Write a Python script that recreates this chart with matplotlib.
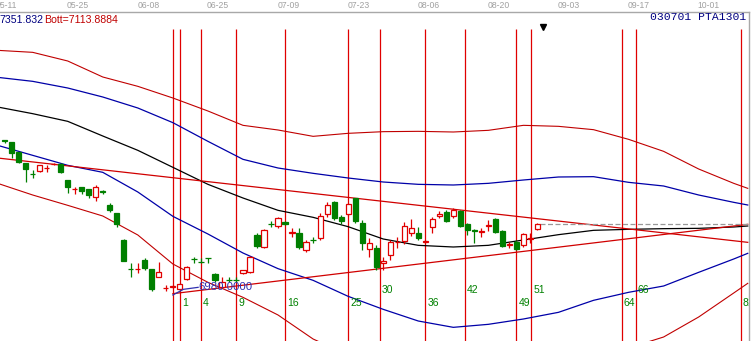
import numpy as np
import matplotlib.pyplot as plt

# candles, bar index (bar 1 = first counted bar after the low)
bars = np.arange(-24, 53)
opn = [7435, 7429, 7399, 7366, 7334, 7344, 7351, 7363, 7364, 7316, 7288, 7294, 7289, 7266, 7282,
       7241, 7216, 7136, 7050, 7049, 7076, 7048, 7026, 6991, 6995, 6990, 7019, 7080, 7070, 7082,
       7033, 6996, 7017, 7017, 7036, 7041, 7151, 7114, 7184, 7178, 7190, 7158, 7158, 7106, 7137,
       7141, 7214, 7251, 7206, 7213, 7261, 7188, 7108, 7111, 7066, 7091, 7130, 7134, 7158, 7156,
       7131, 7174, 7208, 7221, 7208, 7224, 7183, 7165, 7161, 7177, 7198, 7163, 7120, 7131, 7121,
       7140, 7168]
high = [7435, 7429, 7400, 7366, 7346, 7361, 7361, 7366, 7366, 7316, 7296, 7294, 7289, 7301, 7286,
        7246, 7218, 7138, 7066, 7066, 7081, 7050, 7069, 7001, 7000, 7006, 7059, 7086, 7081, 7082,
        7036, 7026, 7024, 7024, 7047, 7088, 7156, 7168, 7194, 7206, 7192, 7171, 7171, 7136, 7146,
        7216, 7251, 7253, 7211, 7248, 7263, 7196, 7143, 7121, 7086, 7136, 7146, 7191, 7198, 7176,
        7136, 7206, 7224, 7226, 7231, 7226, 7186, 7168, 7171, 7196, 7201, 7166, 7131, 7136, 7158,
        7156, 7188]
low = [7426, 7381, 7366, 7311, 7321, 7339, 7341, 7360, 7336, 7278, 7274, 7274, 7263, 7254, 7274,
       7221, 7176, 7072, 7026, 7036, 7046, 6984, 7024, 6984, 6992, 6988, 7016, 7067, 7066, 7066,
       7011, 6991, 7009, 7011, 7033, 7036, 7111, 7111, 7174, 7171, 7181, 7146, 7108, 7101, 7126,
       7136, 7206, 7196, 7183, 7209, 7186, 7106, 7086, 7046, 7046, 7076, 7111, 7124, 7148, 7136,
       7127, 7156, 7201, 7190, 7203, 7174, 7151, 7128, 7146, 7164, 7156, 7116, 7111, 7105, 7116,
       7128, 7166]
close = [7434, 7396, 7371, 7349, 7333, 7361, 7352, 7364, 7341, 7294, 7289, 7284, 7271, 7294, 7281,
         7226, 7184, 7074, 7049, 7050, 7051, 6989, 7039, 6992, 6998, 7004, 7054, 7079, 7069, 7081,
         7016, 7011, 7016, 7016, 7046, 7086, 7119, 7166, 7183, 7201, 7183, 7159, 7114, 7129, 7136,
         7208, 7241, 7201, 7193, 7244, 7193, 7128, 7126, 7056, 7074, 7129, 7131, 7178, 7171, 7141,
         7132, 7198, 7214, 7194, 7226, 7178, 7166, 7164, 7162, 7180, 7161, 7118, 7123, 7108, 7153,
         7143, 7184]

# envelope bands and moving average, read every 5 bars
band_x = [-25, -20, -15, -10, -5, 0, 5, 10, 15, 20, 25, 30, 35, 40, 45, 50, 55, 60, 65, 70, 75, 80, 82]
upper_red = [7705, 7699, 7673, 7625, 7597, 7562, 7523, 7480, 7466, 7447, 7456, 7461, 7462, 7460,
             7465, 7480, 7477, 7467, 7438, 7402, 7349, 7306, 7291]
upper_blue = [7624, 7612, 7592, 7565, 7532, 7488, 7432, 7378, 7352, 7336, 7322, 7310, 7303, 7301,
              7306, 7316, 7325, 7326, 7309, 7298, 7271, 7249, 7241]
mid_ma = [7535, 7515, 7492, 7448, 7405, 7354, 7303, 7262, 7225, 7204, 7176, 7139, 7120, 7115,
          7120, 7136, 7152, 7165, 7168, 7170, 7171, 7175, 7178]
lower_blue = [7420, 7390, 7360, 7339, 7280, 7207, 7154, 7097, 7050, 7015, 6967, 6928, 6893, 6874,
              6883, 6899, 6919, 6955, 6979, 6998, 7039, 7079, 7096]
lower_red = [7306, 7271, 7240, 7208, 7151, 7064, 7009, 6964, 6911, 6839, 6791, 6752, 6722, 6707,
             6716, 6734, 6758, 6785, 6812, 6845, 6905, 6977, 7006]

# trend lines (two end points each)
top_line_x = [-25, 82]
top_line_y = [7382, 7129]
bot_line_x = [0, 82]
bot_line_y = [6975, 7183]

# time-cycle lines and their labels
cycle_x = [0, 1, 4, 9, 16, 25, 29.5, 36, 41.65, 49, 51.1, 64, 66, 81]
low_labels = ['1', '4', '9', '16', '25', '36', '49', '64', '81']
low_label_x = [1, 4, 9, 16, 25, 36, 49, 64, 81]
up_labels = ['30', '42', '51', '66']
up_label_x = [29.5, 41.65, 51.1, 66]

dates = ['05-11', '05-25', '06-08', '06-25', '07-09', '07-23', '08-06', '08-20', '09-03', '09-17', '10-01']
date_x = [-23.8, -13.6, -3.5, 6.4, 16.5, 26.5, 36.5, 46.5, 56.5, 66.5, 76.4]

low_price = 6980.0
red = '#e00000'
green = '#007f00'

fig = plt.figure(figsize=(7.51, 3.41), dpi=100)
ax = fig.add_axes([0, 0, 749 / 751, 329.5 / 341])
ax.set_xlim(-24.66, 82.18)
ax.set_ylim(6833, 7821.5)
ax.set_xticks([])
ax.set_yticks([])
for s in ['left', 'bottom']:
    ax.spines[s].set_visible(False)
for s in ['top', 'right']:
    ax.spines[s].set_color('#a8a8a8')
    ax.spines[s].set_linewidth(1.0)

# cycle lines
ax.vlines(cycle_x, 6833, 7769, color=red, lw=0.9, zorder=2)

# bands
ax.plot(band_x, upper_red, color='#c00000', lw=0.8, zorder=3)
ax.plot(band_x, lower_red, color='#c00000', lw=0.8, zorder=3)
ax.plot(band_x, upper_blue, color='#0000a8', lw=0.9, zorder=3)
ax.plot(band_x, lower_blue, color='#0000a8', lw=0.9, zorder=3)
ax.plot(band_x, mid_ma, color='black', lw=0.9, zorder=3)
ax.plot(top_line_x, top_line_y, color='#d00000', lw=0.9, zorder=3)
ax.plot(bot_line_x, bot_line_y, color='#d00000', lw=0.9, zorder=3)

# last close reference line
ax.plot([bars[-1] + 0.4, 82.2], [close[-1], close[-1]], color='#999999', lw=0.9,
        ls=(0, (4, 2)), zorder=3)

# candles
o = np.array(opn)
c = np.array(close)
up = c > o
cols = np.where(up, red, green)
ax.vlines(bars, low, high, color=cols, lw=0.9, zorder=4)
body_lo = np.minimum(o, c)
body_h = np.abs(c - o)
ax.bar(bars[up], body_h[up], 0.74, bottom=body_lo[up], facecolor='white',
       edgecolor=red, lw=0.9, zorder=5)
ax.bar(bars[~up], body_h[~up], 0.74, bottom=body_lo[~up], facecolor=green,
       edgecolor=green, lw=0.9, zorder=5)

# low price label
ax.plot([0, 1.5, 3.6], [6971, 6988, 6994], color='#3030b0', lw=0.9, zorder=6)
ax.text(3.6, 6993.5, '%.4f' % low_price, color='#3030b0', fontsize=8.2,
        family='Liberation Sans', va='center', ha='left', zorder=6)

# cycle numbers
for t, xv in zip(low_labels, low_label_x):
    ax.text(xv + 0.3, 6947, t, color='#008000', fontsize=7.5, family='Liberation Sans',
            va='center', ha='left', clip_on=True, zorder=6)
for t, xv in zip(up_labels, up_label_x):
    ax.text(xv + 0.3, 6987, t, color='#008000', fontsize=7.5, family='Liberation Sans',
            va='center', ha='left', clip_on=True, zorder=6)

# marker above last bar
ax.plot([52.85], [7774], marker='v', color='black', markersize=4, zorder=6)

# header
for d, xv in zip(dates, date_x):
    xf = (172.89 + 7.01 * xv) / 751
    fig.text(xf, 1 - 5.5 / 341, d, color='#a0a0a0', fontsize=6.2, family='Liberation Sans',
             ha='center', va='center')
fig.text(-1 / 751, 1 - 20 / 341, '7351.832', color='#000080', fontsize=7.6,
         family='Liberation Sans', ha='left', va='center')
fig.text(44 / 751, 1 - 20 / 341, 'Bott=7113.8884', color='#c00000', fontsize=7.6,
         family='Liberation Sans', ha='left', va='center',
         bbox=dict(facecolor='white', edgecolor='none', pad=0))
fig.text(746.5 / 751, 1 - 17 / 341, '030701 PTA1301', color='#000080', fontsize=8.2,
         family='Liberation Mono', ha='right', va='center')

fig.savefig('out.png', dpi=100)
